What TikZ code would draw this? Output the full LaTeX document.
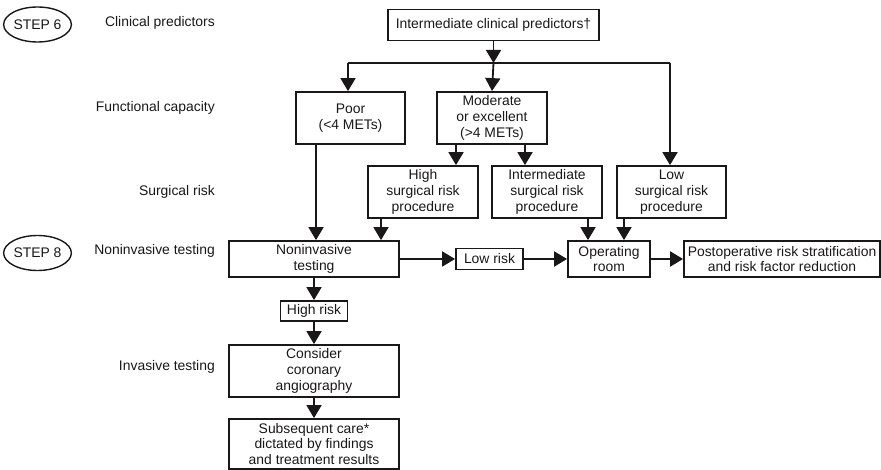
\documentclass[tikz,border=0pt]{standalone}
\usepackage{fontspec}
\setmainfont{Liberation Sans}
\usetikzlibrary{arrows.meta,shapes.geometric}
\definecolor{ink}{HTML}{1A1718}
\begin{document}
\begin{tikzpicture}[x=1pt,y=-1pt,
  font=\fontsize{13.9}{15.7}\selectfont,
  every node/.style={text=ink},
  box/.style={draw=ink,line width=1.8pt,inner sep=0pt,align=center},
  lbl/.style={anchor=east,inner sep=0pt},
  stepell/.style={draw=ink,ellipse,line width=1.4pt,minimum width=59pt,minimum height=35pt,inner sep=0pt},
  arr/.style={draw=ink,line width=1.8pt,-{Triangle[length=13pt,width=15pt]}},
  ln/.style={draw=ink,line width=1.8pt}]
\useasboundingbox (0,0) rectangle (881,470);

% left column
\node[stepell] (s6) at (37.5,24.5) {STEP 6};
\node[stepell] (s8) at (37.5,253) {STEP 8};
\node[lbl] (l1) at (215,23) {Clinical predictors};
\node[lbl] (l2) at (215,108) {Functional capacity};
\node[lbl] (l3) at (215,192) {Surgical risk};
\node[lbl] (l4) at (215,251) {Noninvasive testing};
\node[lbl] (l5) at (215,367) {Invasive testing};

% boxes
\node[box,minimum width=211pt,minimum height=31pt] (top) at (493.5,25) {Intermediate clinical predictors†};
\node[box,minimum width=109pt,minimum height=52pt] (poor) at (350.5,118) {Poor\\(<4 METs)};
\node[box,minimum width=110pt,minimum height=52pt] (mod) at (492,118) {Moderate\\or excellent\\(>4 METs)};
\node[box,minimum width=110pt,minimum height=52pt] (high) at (423,192) {High\\surgical risk\\procedure};
\node[box,minimum width=110pt,minimum height=52pt] (inter) at (547,192) {Intermediate\\surgical risk\\procedure};
\node[box,minimum width=109pt,minimum height=52pt] (low) at (671.5,192) {Low\\surgical risk\\procedure};
\node[box,minimum width=170pt,minimum height=36pt] (nonin) at (314,259) {Noninvasive\\testing};
\node[box,minimum width=67pt,minimum height=21pt] (lowrisk) at (489.5,259) {Low risk};
\node[box,minimum width=82pt,minimum height=36pt] (oper) at (609,259) {Operating\\room};
\node[box,minimum width=196pt,minimum height=36pt] (post) at (782,259) {Postoperative risk stratification\\and risk factor reduction};
\node[box,minimum width=67pt,minimum height=20pt] (highrisk) at (314,311) {High risk};
\node[box,minimum width=170pt,minimum height=52pt] (consider) at (314,371) {Consider\\coronary\\angiography};
\node[box,minimum width=170pt,minimum height=50pt] (subseq) at (314,444) {Subsequent care*\\dictated by findings\\and treatment results};

% helper coordinates
\coordinate (j) at (493.5,63);
\coordinate (xpoor) at (348,0);
\coordinate (xlow) at (670,0);
\coordinate (xmh) at (456,0);
\coordinate (xmi) at (525,0);
\coordinate (xpn) at (316,0);
\coordinate (xhn) at (381,0);
\coordinate (xio) at (588,0);
\coordinate (xlo) at (624,0);

% connectors
\draw[arr] (top.south) -- (j);
\draw[ln] (j -| xpoor) -- (j -| xlow);
\draw[arr] (j -| xpoor) -- (poor.north -| xpoor);
\draw[arr] (j) -- (mod.north);
\draw[arr] (j -| xlow) -- (low.north -| xlow);
\draw[arr] (mod.south -| xmh) -- (high.north -| xmh);
\draw[arr] (mod.south -| xmi) -- (inter.north -| xmi);
\draw[arr] (poor.south -| xpn) -- (nonin.north -| xpn);
\draw[arr] (high.south -| xhn) -- (nonin.north -| xhn);
\draw[arr] (inter.south -| xio) -- (oper.north -| xio);
\draw[arr] (low.south -| xlo) -- (oper.north -| xlo);
\draw[arr] (nonin.east) -- (lowrisk.west);
\draw[arr] (lowrisk.east) -- (oper.west);
\draw[arr] (oper.east) -- (post.west);
\draw[arr] (nonin.south) -- (highrisk.north);
\draw[arr] (highrisk.south) -- (consider.north);
\draw[arr] (consider.south) -- (subseq.north);
\end{tikzpicture}
\end{document}
